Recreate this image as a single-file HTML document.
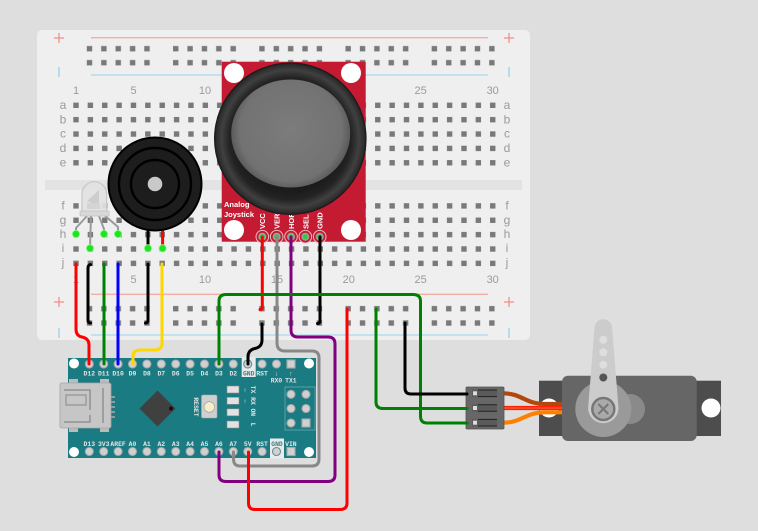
<!DOCTYPE html>
<html><head><meta charset="utf-8"><style>
html,body{margin:0;padding:0;background:#dedede;}
svg{display:block;}
.bl{font-family:"Liberation Sans",sans-serif;font-size:11px;fill:#9a9a9a;text-anchor:middle;}
.rl{font-family:"Liberation Sans",sans-serif;font-size:12px;fill:#9a9a9a;text-anchor:middle;}
.ap{font-family:"Liberation Mono",monospace;font-size:6.4px;font-weight:bold;fill:#e4e4e4;text-anchor:middle;}
.jl{font-family:"Liberation Sans",sans-serif;font-size:7.5px;font-weight:bold;fill:#fff;}
.w{fill:none;stroke-width:3;stroke-linecap:round;stroke-linejoin:round;}
</style></head><body>
<svg width="758" height="531" viewBox="0 0 758 531" xmlns="http://www.w3.org/2000/svg">
<defs>
<pattern id="mh" x="68.8" y="98.1" width="14.37" height="14.37" patternUnits="userSpaceOnUse"><rect x="4.5" y="4.5" width="5.4" height="5.4" fill="#797979"/></pattern>
<pattern id="rh" x="82.3" y="41.7" width="86.22" height="14" patternUnits="userSpaceOnUse">
<rect x="4.5" y="4.3" width="5.4" height="5.4" fill="#797979"/><rect x="18.87" y="4.3" width="5.4" height="5.4" fill="#797979"/><rect x="33.24" y="4.3" width="5.4" height="5.4" fill="#797979"/><rect x="47.61" y="4.3" width="5.4" height="5.4" fill="#797979"/><rect x="61.98" y="4.3" width="5.4" height="5.4" fill="#797979"/></pattern>
<pattern id="rh2" x="82.3" y="301.7" width="86.22" height="14.3" patternUnits="userSpaceOnUse">
<rect x="4.5" y="4.3" width="5.4" height="5.4" fill="#797979"/><rect x="18.87" y="4.3" width="5.4" height="5.4" fill="#797979"/><rect x="33.24" y="4.3" width="5.4" height="5.4" fill="#797979"/><rect x="47.61" y="4.3" width="5.4" height="5.4" fill="#797979"/><rect x="61.98" y="4.3" width="5.4" height="5.4" fill="#797979"/></pattern>
<radialGradient id="ring" cx="290.3" cy="138.7" r="76.3" gradientUnits="userSpaceOnUse">
<stop offset="0.7" stop-color="#1c1c1c"/><stop offset="0.8" stop-color="#232323"/><stop offset="0.9" stop-color="#404040"/><stop offset="0.97" stop-color="#2c2c2c"/><stop offset="1" stop-color="#141414"/></radialGradient>
<radialGradient id="cap" cx="290.7" cy="130" r="60" gradientUnits="userSpaceOnUse">
<stop offset="0" stop-color="#7c7c7c"/><stop offset="0.85" stop-color="#727272"/><stop offset="1" stop-color="#5a5a5a"/></radialGradient>
</defs>
<rect width="758" height="531" fill="#dedede"/>
<!-- breadboard -->
<rect x="37" y="30" width="493" height="310" rx="5" fill="#efefef"/>
<rect x="45" y="180" width="477" height="10" fill="#e3e3e3"/>
<line x1="91" y1="37.7" x2="488" y2="37.7" stroke="#f4aca4" stroke-width="1.3"/>
<line x1="91" y1="75" x2="488" y2="75" stroke="#a9d9ef" stroke-width="1.3"/>
<line x1="91" y1="294.3" x2="488" y2="294.3" stroke="#f4aca4" stroke-width="1.3"/>
<line x1="91" y1="335" x2="488" y2="335" stroke="#a9d9ef" stroke-width="1.3"/>
<g stroke="#f08a80" stroke-width="1.2"><line x1="54" y1="38" x2="64" y2="38"/><line x1="59" y1="33" x2="59" y2="43"/><line x1="504" y1="38" x2="514" y2="38"/><line x1="509" y1="33" x2="509" y2="43"/><line x1="54" y1="302" x2="64" y2="302"/><line x1="59" y1="297" x2="59" y2="307"/><line x1="504" y1="302" x2="514" y2="302"/><line x1="509" y1="297" x2="509" y2="307"/></g>
<g stroke="#8fd0ea" stroke-width="1.2"><line x1="59" y1="67" x2="59" y2="77"/><line x1="509" y1="67" x2="509" y2="77"/><line x1="59" y1="328" x2="59" y2="338"/><line x1="509" y1="328" x2="509" y2="338"/></g>
<rect x="68.8" y="98.1" width="431.1" height="71.85" fill="url(#mh)"/>
<rect x="68.8" y="198.7" width="431.1" height="71.85" fill="url(#mh)"/>
<rect x="82.3" y="41.7" width="431.1" height="28" fill="url(#rh)"/>
<rect x="82.3" y="301.7" width="431.1" height="28.6" fill="url(#rh2)"/>
<g class="bl"><text x="76" y="94">1</text><text x="133.5" y="94">5</text><text x="205" y="94">10</text><text x="277" y="94">15</text><text x="348.8" y="94">20</text><text x="420.6" y="94">25</text><text x="492.7" y="94">30</text>
<text x="76" y="283">1</text><text x="133.5" y="283">5</text><text x="205" y="283">10</text><text x="277" y="283">15</text><text x="348.8" y="283">20</text><text x="420.6" y="283">25</text><text x="492.7" y="283">30</text></g>
<g class="rl"><text x="63" y="109">a</text><text x="63" y="123.5">b</text><text x="63" y="137.5">c</text><text x="63" y="152">d</text><text x="63" y="166.5">e</text>
<text x="63" y="209.5">f</text><text x="63" y="224">g</text><text x="63" y="238">h</text><text x="63" y="252">i</text><text x="63" y="266.5">j</text>
<text x="507" y="109">a</text><text x="507" y="123.5">b</text><text x="507" y="137.5">c</text><text x="507" y="152">d</text><text x="507" y="166.5">e</text>
<text x="507" y="209.5">f</text><text x="507" y="224">g</text><text x="507" y="238">h</text><text x="507" y="252">i</text><text x="507" y="266.5">j</text></g>
<!-- LED legs -->
<g stroke="#9a9a9a" stroke-width="2" fill="none"><path d="M87,216 L76,228 L76,234"/><path d="M91,216 L90,248"/><path d="M99,216 L104,229 L104,234"/><path d="M103,214 L118,227 L118,234"/></g>
<!-- LED body -->
<path d="M82,213 V194 A12.3,12.3 0 0 1 106.6,194 V213 Z" fill="#e2e2e2" fill-opacity="0.92" stroke="#c6c6c6" stroke-width="1.2"/>
<rect x="80" y="211" width="29" height="5" rx="1" fill="#d8d8d8" stroke="#c2c2c2" stroke-width="0.8"/>
<path d="M87,201 L99,190 L99,206 Z" fill="#cdcdcd"/>
<rect x="87" y="203" width="13" height="6" fill="#d4d4d4"/>
<!-- buzzer legs -->
<line x1="148" y1="226" x2="148" y2="248" stroke="#000" stroke-width="3"/>
<line x1="162.6" y1="226" x2="162.6" y2="248" stroke="#f00" stroke-width="3"/>
<!-- buzzer -->
<circle cx="155" cy="184" r="46.5" fill="#1d1d1d" stroke="#000" stroke-width="2"/>
<circle cx="155" cy="184" r="36" fill="none" stroke="#000" stroke-width="2.4"/>
<circle cx="155" cy="184" r="24" fill="none" stroke="#000" stroke-width="2.4"/>
<circle cx="155" cy="184" r="7.3" fill="#c9c9c9"/>
<!-- joystick -->
<rect x="221.7" y="61.7" width="144" height="180" fill="#c41b32"/>
<circle cx="234" cy="73" r="10" fill="#fff"/><circle cx="351" cy="73" r="10" fill="#fff"/>
<circle cx="234" cy="230" r="10" fill="#fff"/><circle cx="351" cy="230" r="10" fill="#fff"/>
<text class="jl" x="224" y="207">Analog</text><text class="jl" x="224" y="217">Joystick</text>
<g class="jl" font-size="7.5"><text transform="translate(265.2,229) rotate(-90)">VCC</text><text transform="translate(279.6,229) rotate(-90)">VERT</text><text transform="translate(294,229) rotate(-90)">HORZ</text><text transform="translate(308.3,229) rotate(-90)">SEL</text><text transform="translate(322.7,229) rotate(-90)">GND</text></g>
<circle cx="290.3" cy="138.7" r="76.3" fill="url(#ring)"/>
<ellipse cx="290.7" cy="133.5" rx="59.5" ry="54" fill="url(#cap)"/>
<g><circle cx="262.3" cy="236.7" r="6.3" fill="#c41b32" stroke="#eab7be" stroke-width="1"/><circle cx="262.3" cy="236.7" r="4" fill="#a0a0a0"/><circle cx="262.3" cy="236.7" r="2.5" fill="#2ecc40"/>
<circle cx="276.7" cy="236.7" r="6.3" fill="#c41b32" stroke="#eab7be" stroke-width="1"/><circle cx="276.7" cy="236.7" r="4" fill="#a0a0a0"/><circle cx="276.7" cy="236.7" r="2.5" fill="#2ecc40"/>
<circle cx="291" cy="236.7" r="6.3" fill="#c41b32" stroke="#eab7be" stroke-width="1"/><circle cx="291" cy="236.7" r="4" fill="#a0a0a0"/><circle cx="291" cy="236.7" r="2.5" fill="#2ecc40"/>
<circle cx="305.3" cy="236.7" r="6.3" fill="#c41b32" stroke="#eab7be" stroke-width="1"/><circle cx="305.3" cy="236.7" r="4" fill="#a0a0a0"/><circle cx="305.3" cy="236.7" r="2.5" fill="#2ecc40"/>
<circle cx="319.7" cy="236.7" r="6.3" fill="#c41b32" stroke="#eab7be" stroke-width="1"/><circle cx="319.7" cy="236.7" r="4" fill="#a0a0a0"/><circle cx="319.7" cy="236.7" r="2.5" fill="#2ecc40"/></g>
<!-- Arduino -->
<rect x="68" y="358" width="248" height="100" fill="#1b7b82"/>
<circle cx="74" cy="363.5" r="5" fill="#fff"/><circle cx="309" cy="363.5" r="5" fill="#fff"/><circle cx="74" cy="452" r="5" fill="#fff"/><circle cx="309" cy="452" r="5" fill="#fff"/>
<!-- USB -->
<rect x="69" y="379" width="9" height="5" fill="#bbb"/><rect x="100" y="379" width="9" height="5" fill="#bbb"/><rect x="69" y="427" width="9" height="5" fill="#bbb"/><rect x="100" y="427" width="9" height="5" fill="#bbb"/>
<rect x="60" y="383" width="51" height="45" rx="2" fill="#c6c6c6" stroke="#a5a5a5" stroke-width="0.8"/>
<path d="M64,390 H90 V410 M64,422 H90 V415" fill="none" stroke="#888" stroke-width="1.3"/>
<path d="M66,395 H86 V405 H66 Z" fill="none" stroke="#888" stroke-width="1"/>
<line x1="103" y1="388" x2="103" y2="423" stroke="#888" stroke-width="1.3"/>
<g fill="#999"><rect x="111" y="396" width="4" height="2"/><rect x="111" y="401" width="4" height="2"/><rect x="111" y="406" width="4" height="2"/><rect x="111" y="411" width="4" height="2"/><rect x="111" y="416" width="4" height="2"/></g>
<!-- chip -->
<path d="M157.5,390.5 L175.5,408.5 L157.5,426.5 L139.5,408.5 Z" fill="#404040"/>
<circle cx="171" cy="408.5" r="2" fill="#111"/>
<!-- reset -->
<rect x="201.5" y="395" width="15.5" height="23" rx="1.5" fill="#cfcfcf" stroke="#aaa" stroke-width="0.6"/>
<circle cx="209.3" cy="407" r="5.3" fill="#f3efc8" stroke="#999" stroke-width="0.6"/>
<text class="ap" font-size="5.5" transform="translate(194,407) rotate(90)">RESET</text>
<!-- leds -->
<g fill="#e2e2e2" stroke="#8a8a8a" stroke-width="0.6"><rect x="227" y="386" width="12" height="7"/><rect x="227" y="397.3" width="12" height="7"/><rect x="227" y="408.8" width="12" height="7"/><rect x="227" y="421" width="12" height="7"/></g>
<g class="ap" font-size="6"><text x="245" y="392">↑</text><text x="245" y="403">↑</text>
<text transform="translate(251,389.5) rotate(90)">TX</text><text transform="translate(251,401) rotate(90)">RX</text><text transform="translate(251,412.3) rotate(90)">ON</text><text transform="translate(251,424.5) rotate(90)">L</text></g>
<!-- ICSP -->
<rect x="285" y="387" width="30" height="43" fill="none" stroke="#6ea9ad" stroke-width="0.8"/>
<g fill="#d0d0d0" stroke="#a8a8a8" stroke-width="1.1"><circle cx="291" cy="394.3" r="4"/><circle cx="306" cy="394.3" r="4"/><circle cx="291" cy="408.5" r="4"/><circle cx="306" cy="408.5" r="4"/><circle cx="291" cy="423" r="4"/><rect x="302" y="419" width="8" height="8"/></g>
<!-- gnd boxes -->
<rect x="241.7" y="357" width="14" height="20" fill="#e6ecec"/>
<rect x="270" y="438.5" width="14" height="20" fill="#e6ecec"/>
<!-- pins -->
<g fill="#d0d0d0" stroke="#a8a8a8" stroke-width="1.1">
<circle cx="89.3" cy="364" r="4"/><circle cx="103.7" cy="364" r="4"/><circle cx="118.1" cy="364" r="4"/><circle cx="132.5" cy="364" r="4"/><circle cx="146.9" cy="364" r="4"/><circle cx="161.3" cy="364" r="4"/><circle cx="175.7" cy="364" r="4"/><circle cx="190.1" cy="364" r="4"/><circle cx="204.5" cy="364" r="4"/><circle cx="218.9" cy="364" r="4"/><circle cx="233.3" cy="364" r="4"/><circle cx="247.7" cy="364" r="4" stroke="#6a8a8c"/><circle cx="262.1" cy="364" r="4"/><circle cx="276.5" cy="364" r="4"/><rect x="287" y="360" width="8" height="8"/>
<circle cx="89.3" cy="451.5" r="4"/><circle cx="103.7" cy="451.5" r="4"/><circle cx="118.1" cy="451.5" r="4"/><circle cx="132.5" cy="451.5" r="4"/><circle cx="146.9" cy="451.5" r="4"/><circle cx="161.3" cy="451.5" r="4"/><circle cx="175.7" cy="451.5" r="4"/><circle cx="190.1" cy="451.5" r="4"/><circle cx="204.5" cy="451.5" r="4"/><circle cx="218.9" cy="451.5" r="4"/><circle cx="233.3" cy="451.5" r="4"/><circle cx="247.7" cy="451.5" r="4"/><circle cx="262.1" cy="451.5" r="4"/><circle cx="276.5" cy="451.5" r="4" stroke="#6a8a8c"/><rect x="287" y="447.5" width="8" height="8"/></g>
<g class="ap"><text x="89.3" y="375.5">D12</text><text x="103.7" y="375.5">D11</text><text x="118.1" y="375.5">D10</text><text x="132.5" y="375.5">D9</text><text x="146.9" y="375.5">D8</text><text x="161.3" y="375.5">D7</text><text x="175.7" y="375.5">D6</text><text x="190.1" y="375.5">D5</text><text x="204.5" y="375.5">D4</text><text x="218.9" y="375.5">D3</text><text x="233.3" y="375.5">D2</text><text x="248.7" y="375.5" fill="#4a7a7e">GND</text><text x="262.1" y="375.5">RST</text><text x="276.5" y="375.5">↓</text><text x="290.9" y="375.5">↑</text><text x="276.5" y="382.5">RX0</text><text x="290.9" y="382.5">TX1</text>
<text x="89.3" y="446">D13</text><text x="103.7" y="446">3V3</text><text x="118.1" y="446">AREF</text><text x="132.5" y="446">A0</text><text x="146.9" y="446">A1</text><text x="161.3" y="446">A2</text><text x="175.7" y="446">A3</text><text x="190.1" y="446">A4</text><text x="204.5" y="446">A5</text><text x="218.9" y="446">A6</text><text x="233.3" y="446">A7</text><text x="247.7" y="446">5V</text><text x="262.1" y="446">RST</text><text x="277" y="446" fill="#4a7a7e">GND</text><text x="290.9" y="446">VIN</text></g>
<!-- servo -->
<rect x="539" y="380.7" width="182" height="55.3" fill="#4d4d4d"/>
<circle cx="549" cy="408" r="9.5" fill="#fff"/>
<circle cx="711" cy="408" r="9.5" fill="#fff"/>
<rect x="562" y="375.7" width="134.7" height="65.3" rx="6" fill="#666"/>
<circle cx="630" cy="409" r="15" fill="#8a8a8a"/>
<circle cx="603.3" cy="409" r="28" fill="#9a9a9a"/>
<path d="M594.5,328 A8.8,8.8 0 0 1 612.1,328 L618.5,408 A15.2,15.2 0 0 1 588.1,408 Z" fill="#cccccc"/>
<circle cx="603.3" cy="339.7" r="4" fill="#dedede"/><circle cx="603.3" cy="352.3" r="4" fill="#dedede"/><circle cx="603.3" cy="364.7" r="4" fill="#dedede"/><circle cx="603.3" cy="377.5" r="4" fill="#555"/>
<circle cx="603.3" cy="409" r="11" fill="#aaa" stroke="#777" stroke-width="2.5"/>
<path d="M598.3,404 L608.3,414 M608.3,404 L598.3,414" stroke="#777" stroke-width="2"/>
<!-- servo wires -->
<path d="M503,393.3 C522,393.3 525,404 545,404 H562" fill="none" stroke="#b2480c" stroke-width="4.2"/>
<path d="M503,408 H562" fill="none" stroke="#ff2000" stroke-width="4.2"/>
<path d="M503,408 H562" fill="none" stroke="#ff6040" stroke-width="1.2"/>
<path d="M503,422.7 C522,422.7 525,412.3 545,412.3 H562" fill="none" stroke="#ff8000" stroke-width="4.2"/>
<!-- servo connector -->
<rect x="466" y="387" width="38" height="42" rx="1" fill="#676767" stroke="#555" stroke-width="0.8"/>
<g><rect x="472" y="389.8" width="25" height="7" fill="#5a5a5a"/><line x1="478" y1="390" x2="497" y2="390" stroke="#222"/><line x1="478" y1="396.6" x2="497" y2="396.6" stroke="#222"/><rect x="473" y="391.3" width="4" height="4" fill="#ddd"/>
<rect x="472" y="404.5" width="25" height="7" fill="#5a5a5a"/><line x1="478" y1="404.7" x2="497" y2="404.7" stroke="#222"/><line x1="478" y1="411.3" x2="497" y2="411.3" stroke="#222"/><rect x="473" y="406" width="4" height="4" fill="#ddd"/>
<rect x="472" y="419.2" width="25" height="7" fill="#5a5a5a"/><line x1="478" y1="419.4" x2="497" y2="419.4" stroke="#222"/><line x1="478" y1="426" x2="497" y2="426" stroke="#222"/><rect x="473" y="420.7" width="4" height="4" fill="#ddd"/></g>
<!-- wires -->
<path class="w" stroke="#f00" d="M76,264 V329 Q76,336 82,337 Q89,338.5 89,345 V364"/>
<path class="w" stroke="#000" d="M90.5,264.5 Q88,265 88,268 V320 Q88,323 90.5,323"/>
<path class="w" stroke="#008000" d="M104,264 V364"/>
<path class="w" stroke="#00f" d="M118,264 V364"/>
<path class="w" stroke="#000" d="M148,264 V320 Q148,323 145.5,323"/>
<path class="w" stroke="#ffd700" d="M162,264 V343 Q162,350 155,350 H140 Q133,350 133,357 V364"/>
<path class="w" stroke="#f00" d="M262.3,237 V307 Q262.3,309.5 260,309.5"/>
<path class="w" stroke="#000" d="M262,324 V340 Q262,347 255,348.5 Q248,350 248,357 V364"/>
<path class="w" stroke="#888" d="M277,237 V343 Q277,351 285,351 H312 Q319,351 319,358 V459 Q319,466 312,466 H240 Q233.5,466 233.5,459 V452"/>
<path class="w" stroke="#800080" d="M291,237 V330 Q291,337 298,337 H328 Q335,337 335,344 V475 Q335,481.5 328,481.5 H226 Q219,481.5 219,475 V452"/>
<path class="w" stroke="#000" d="M320,237 V321 Q320,323.5 317.5,323.5"/>
<path class="w" stroke="#f00" d="M248.5,452 V503 Q248.5,509.5 255,509.5 H340 Q347,509.5 347,503 V309"/>
<path class="w" stroke="#008000" d="M219,364 V301 Q219,294.5 226,294.5 H413 Q420.5,294.5 420.5,301 V416 Q420.5,423 427,423 H467"/>
<path class="w" stroke="#008000" d="M376,309 V402 Q376,408.5 383,408.5 H467"/>
<path class="w" stroke="#000" d="M405,323 V388 Q405,394 411,394 H467"/>
<!-- connection dots -->
<g fill="#22e022" stroke="#7cff7c" stroke-width="0.8"><circle cx="76" cy="234" r="3.6"/><circle cx="90" cy="248.3" r="3.6"/><circle cx="104" cy="234" r="3.6"/><circle cx="118" cy="234" r="3.6"/><circle cx="148" cy="248.3" r="3.6"/><circle cx="162.6" cy="248.3" r="3.6"/></g>
</svg>
</body></html>
